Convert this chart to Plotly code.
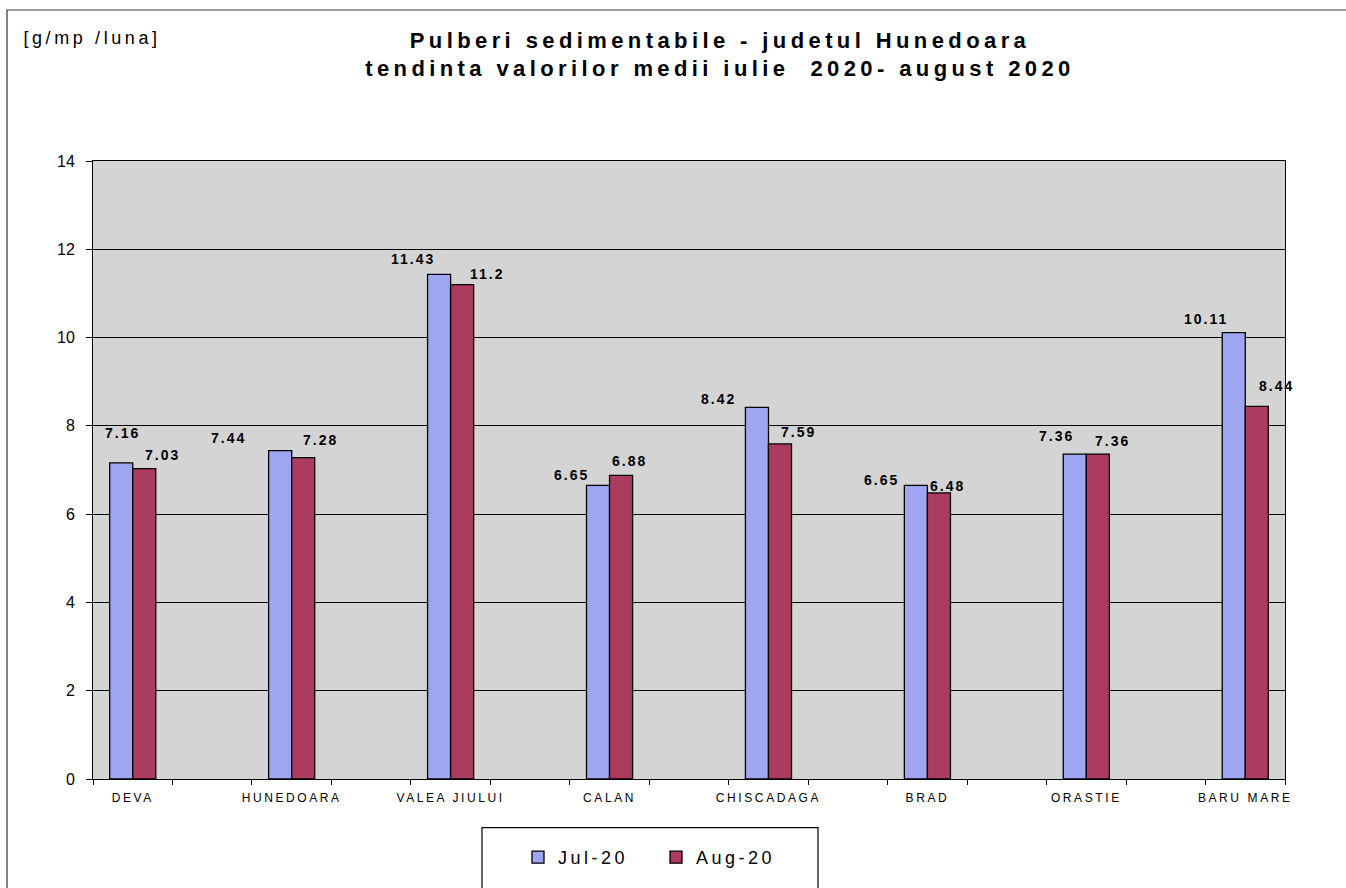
import plotly.graph_objects as go

locations = ['DEVA', 'HUNEDOARA', 'VALEA JIULUI', 'CALAN', 'CHISCADAGA', 'BRAD', 'ORASTIE', 'BARU MARE']
jul_20 = [7.16, 7.44, 11.43, 6.65, 8.42, 6.65, 7.36, 10.11]
aug_20 = [7.03, 7.28, 11.2, 6.88, 7.59, 6.48, 7.36, 8.44]
y_ticks = [0, 2, 4, 6, 8, 10, 12, 14]

W, H = 1346, 888
L, R, T, B = 93, 61, 161, 105
pw, ph = W - L - R, H - T - B

def px_x(x):
    return (x - L) / pw

def px_y(y):
    return (H - B - y) / ph

# the Excel chart has an empty category between every two stations
xpos = [2 * i for i in range(len(locations))]
bounds = [i - 0.5 for i in range(2 * len(locations))]
bw = 0.29

fig = go.Figure()
fig.add_trace(go.Bar(
    name='Jul-20', x=xpos, y=jul_20, width=bw, offset=-bw,
    marker=dict(color='#9ea6f2', line=dict(color='black', width=1.3))
))
fig.add_trace(go.Bar(
    name='Aug-20', x=xpos, y=aug_20, width=bw, offset=0,
    marker=dict(color='#ab3c60', line=dict(color='black', width=1.3))
))

fig.add_annotation(xref='paper', yref='paper', x=px_x(92), y=px_y(25), xanchor='center',
                   text='[g/mp /luna]', showarrow=False, font=dict(size=18, color='black'))

# value labels, placed like in the original chart
jul_dx = [-10, -63, -38, -38, -50, -46, -30, -39]
jul_dy = [30, 13, 15, 10, 8, 5, 18, 14]
aug_dx = [30, 29, 37, 20, 30, 20, 26, 31]
aug_dy = [14, 18, 11, 14, 12, 7, 13, 20]
for x, v, dx, dy in zip(xpos, jul_20, jul_dx, jul_dy):
    fig.add_annotation(x=x, y=v, text=f"<b>{v:g}</b>", showarrow=False,
                       xshift=dx, yshift=dy, font=dict(size=14, color='black'))
for x, v, dx, dy in zip(xpos, aug_20, aug_dx, aug_dy):
    fig.add_annotation(x=x, y=v, text=f"<b>{v:g}</b>", showarrow=False,
                       xshift=dx, yshift=dy, font=dict(size=14, color='black'))

# outer frame
fig.add_shape(type='rect', xref='paper', yref='paper',
              x0=px_x(7), x1=px_x(1400), y0=px_y(9), y1=px_y(950),
              line=dict(color='#333', width=1.2), layer='below')
# legend box
fig.add_shape(type='rect', xref='paper', yref='paper',
              x0=px_x(482), x1=px_x(818), y0=px_y(832), y1=px_y(900),
              line=dict(color='black', width=1.2))

fig.update_layout(
    width=W, height=H,
    margin=dict(l=L, r=R, t=T, b=B),
    paper_bgcolor='white', plot_bgcolor='#d4d4d4',
    font=dict(family='Liberation Sans, Arial', color='black'),
    title=dict(text='<b>Pulberi sedimentabile - judetul Hunedoara<br>tendinta valorilor medii iulie  2020- august 2020</b>',
               x=720 / W, xanchor='center', y=1 - 47.5 / H, yanchor='middle',
               font=dict(size=22, color='black')),
    barmode='overlay',
    showlegend=True,
    legend=dict(orientation='h', x=px_x(518), xanchor='left', y=px_y(862), yanchor='middle',
                font=dict(size=18), bgcolor='rgba(0,0,0,0)', itemwidth=30,
                entrywidth=93, entrywidthmode='pixels'),
)
fig.update_xaxes(
    range=[-0.5, 2 * len(locations) - 1.5],
    tickvals=xpos, ticktext=locations, ticks='', ticklabelstandoff=8,
    minor=dict(tickvals=bounds, ticks='outside', ticklen=5, tickcolor='black', showgrid=False),
    showline=True, linecolor='black', linewidth=1, mirror=True,
    tickfont=dict(size=12), showgrid=False, zeroline=False
)
fig.update_yaxes(
    range=[0, 14], tickvals=y_ticks, ticks='outside', ticklen=6, tickcolor='black',
    showline=True, linecolor='black', linewidth=1, mirror=True, ticklabelstandoff=8,
    showgrid=True, gridcolor='black', gridwidth=1, tickfont=dict(size=16),
    zeroline=False
)

post = """
document.body.style.margin = '0';
var gd = document.getElementById('{plot_id}');
function sp(sel, v) { gd.querySelectorAll(sel).forEach(function (e) { e.style.letterSpacing = v; }); }
sp('.gtitle', '4.4px');
sp('.xtick text', '2.6px');
sp('.annotation text', '2px');
sp('.annotation[data-index="0"] text', '3.6px');
sp('.legendtext', '3.5px');
"""

fig.write_html("out.html", post_script=post, config={'displayModeBar': False})
